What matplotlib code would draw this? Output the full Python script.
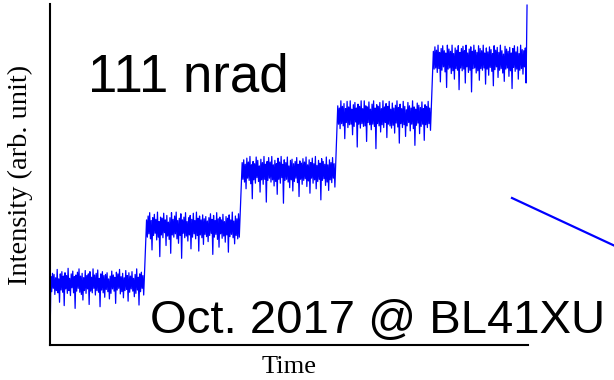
import numpy as np
import matplotlib
matplotlib.use("Agg")
import matplotlib.pyplot as plt
from matplotlib.lines import Line2D

# Intensity plateaus (arb. unit) and the time boundaries between them
levels = [1, 2, 3, 4, 5]
step_times = [0, 1, 2, 3, 4, 5]

# Fluctuation around each plateau, in hundredths of a unit
noise_1 = [12, -15, 18, -9, 16, -20, 10, -13, 25, -17, 8, -34, 17, -12, 21, -16, 13, -40, 19, -10,
           14, -18, 27, -13, 9, -22, 17, -8, 22, -17, 12, -45, 15, -14, 20, -9, 26, -16, 13, -20,
           18, -30, 10, -13, 23, -18, 14, -10, 17, -38, 21, -14, 11, -17, 26, -9, 15, -21, 18, -13,
           24, -16, 9, -42, 17, -12, 21, -17, 14, -25, 16, -11, 19, -15, 8, -28, 13, -18, 22, -10,
           15, -14, 11, -36, 20, -12, 17, -9, 25, -19, 12, -15, 18, -26, 10, -13, 23, -11, 14, -32,
           19, -16, 13, -10, 21, -14, 9, -24, 16, -18, 26, -12, 11, -39, 17, -15, 20, -9, 14, -21]
noise_2 = [14, -17, 21, -11, 27, -20, 13, -40, 18, -14, 24, -10, 15, -22, 28, -17, 11, -52, 19, -13,
           17, -18, 26, -9, 14, -32, 22, -15, 10, -21, 18, -46, 27, -13, 15, -17, 21, -11, 28, -20,
           13, -28, 17, -14, 25, -55, 14, -10, 19, -18, 27, -15, 11, -24, 18, -13, 22, -38, 15, -17,
           26, -11, 13, -20, 28, -14, 17, -42, 21, -13, 14, -18, 23, -30, 16, -12, 20, -16, 12, -25,
           18, -14, 25, -10, 15, -48, 22, -17, 13, -12, 27, -21, 16, -35, 19, -11, 14, -19, 24, -15,
           11, -26, 20, -13, 17, -44, 23, -16, 14, -12, 28, -18, 12, -29, 21, -14, 16, -20, 25, -17]
noise_3 = [17, -13, 22, -18, 14, -30, 25, -11, 18, -15, 28, -21, 13, -48, 19, -14, 15, -20, 27, -10,
           21, -17, 11, -36, 23, -14, 17, -22, 28, -13, 14, -54, 19, -15, 26, -11, 18, -18, 28, -14,
           13, -25, 21, -17, 15, -40, 25, -13, 18, -20, 28, -10, 14, -56, 22, -15, 17, -13, 27, -18,
           11, -28, 21, -14, 23, -34, 15, -17, 19, -11, 26, -19, 14, -44, 20, -13, 16, -22, 24, -15,
           18, -12, 27, -26, 13, -16, 22, -38, 17, -11, 25, -20, 15, -14, 28, -30, 12, -17, 21, -13,
           16, -50, 24, -15, 19, -12, 14, -24, 27, -18, 13, -33, 22, -14, 17, -19, 26, -11, 15, -27]
noise_4 = [19, -14, 15, -22, 28, -13, 18, -17, 23, -40, 14, -11, 27, -20, 17, -15, 28, -14, 13, -33,
           21, -18, 25, -10, 15, -55, 22, -14, 18, -21, 28, -13, 14, -18, 28, -17, 19, -45, 17, -11,
           26, -15, 13, -24, 22, -14, 28, -18, 15, -58, 21, -13, 18, -17, 25, -28, 14, -15, 28, -20,
           17, -11, 23, -38, 18, -14, 27, -17, 13, -21, 24, -16, 15, -30, 20, -12, 28, -19, 16, -48,
           22, -13, 14, -20, 27, -15, 18, -36, 12, -17, 25, -11, 19, -26, 15, -14, 28, -22, 17, -52,
           13, -16, 24, -12, 20, -31, 16, -18, 26, -14, 14, -43, 21, -15, 18, -20, 27, -13, 15, -25]
noise_5 = [17, -15, 25, -13, 19, -21, 28, -14, 15, -38, 22, -17, 27, -11, 18, -20, 14, -48, 28, -15,
           21, -13, 17, -23, 28, -18, 13, -33, 23, -14, 19, -17, 27, -52, 15, -13, 22, -18, 26, -15,
           18, -40, 28, -11, 14, -21, 21, -17, 25, -56, 17, -14, 28, -13, 19, -22, 15, -18, 27, -35,
           22, -14, 18, -17, 28, -13, 14, -42, 23, -15, 16, -26, 25, -12, 20, -19, 13, -45, 27, -16,
           19, -11, 24, -30, 15, -17, 28, -14, 18, -22, 12, -37, 26, -15, 21, -13, 17, -28, 24, -18,
           14, -50, 22, -12, 27, -19, 16, -15, 25, -33, 13, -17, 28, -14, 20, -24, 18, -11, 23, -40]
noises = [noise_1, noise_2, noise_3, noise_4, noise_5]

# Signal before the first plateau and the final jump
start_time, start_value = 0.0, -0.05
spike_times = [4.985, 4.99]
spike_values = [5.3, 6.0]

t = [start_time]
y = [start_value]
for k, (lev, nz) in enumerate(zip(levels, noises)):
    tt = np.linspace(step_times[k] + 0.01, step_times[k + 1] - 0.02, len(nz))
    t.extend(tt)
    y.extend(lev + np.array(nz) / 100.0)
t.extend(spike_times)
y.extend(spike_values)

fig = plt.figure(figsize=(6.14, 3.80), dpi=100)
ax = fig.add_axes([50 / 614, 35 / 380, 478 / 614, 341 / 380])
ax.plot(t, y, color="#0000ff", lw=0.9)
ax.set_xlim(0, 5.0)
ax.set_ylim(-0.108, 6.02)

for side in ("top", "right"):
    ax.spines[side].set_visible(False)
for side in ("left", "bottom"):
    ax.spines[side].set_linewidth(1.5)
ax.set_xticks([])
ax.set_yticks([])

serif = ["Liberation Serif", "DejaVu Serif"]
sans = ["Liberation Sans", "DejaVu Sans"]
ax.set_xlabel("Time", family=serif, fontsize=19, labelpad=8)
ax.set_ylabel("Intensity (arb. unit)", family=serif, fontsize=20.5, labelpad=12)

fig.text(88 / 614, 1 - 92 / 380, "111 nrad", family=sans, fontsize=38,
         ha="left", va="baseline")
fig.text(150 / 614, 1 - 333 / 380, "Oct. 2017 @ BL41XU", family=sans, fontsize=34,
         ha="left", va="baseline")

fig.add_artist(Line2D([512 / 614, 1.0], [1 - 198 / 380, 1 - 245.5 / 380],
                      transform=fig.transFigure, color="#0000ff", lw=1.6))

fig.savefig("out.png", dpi=100)
